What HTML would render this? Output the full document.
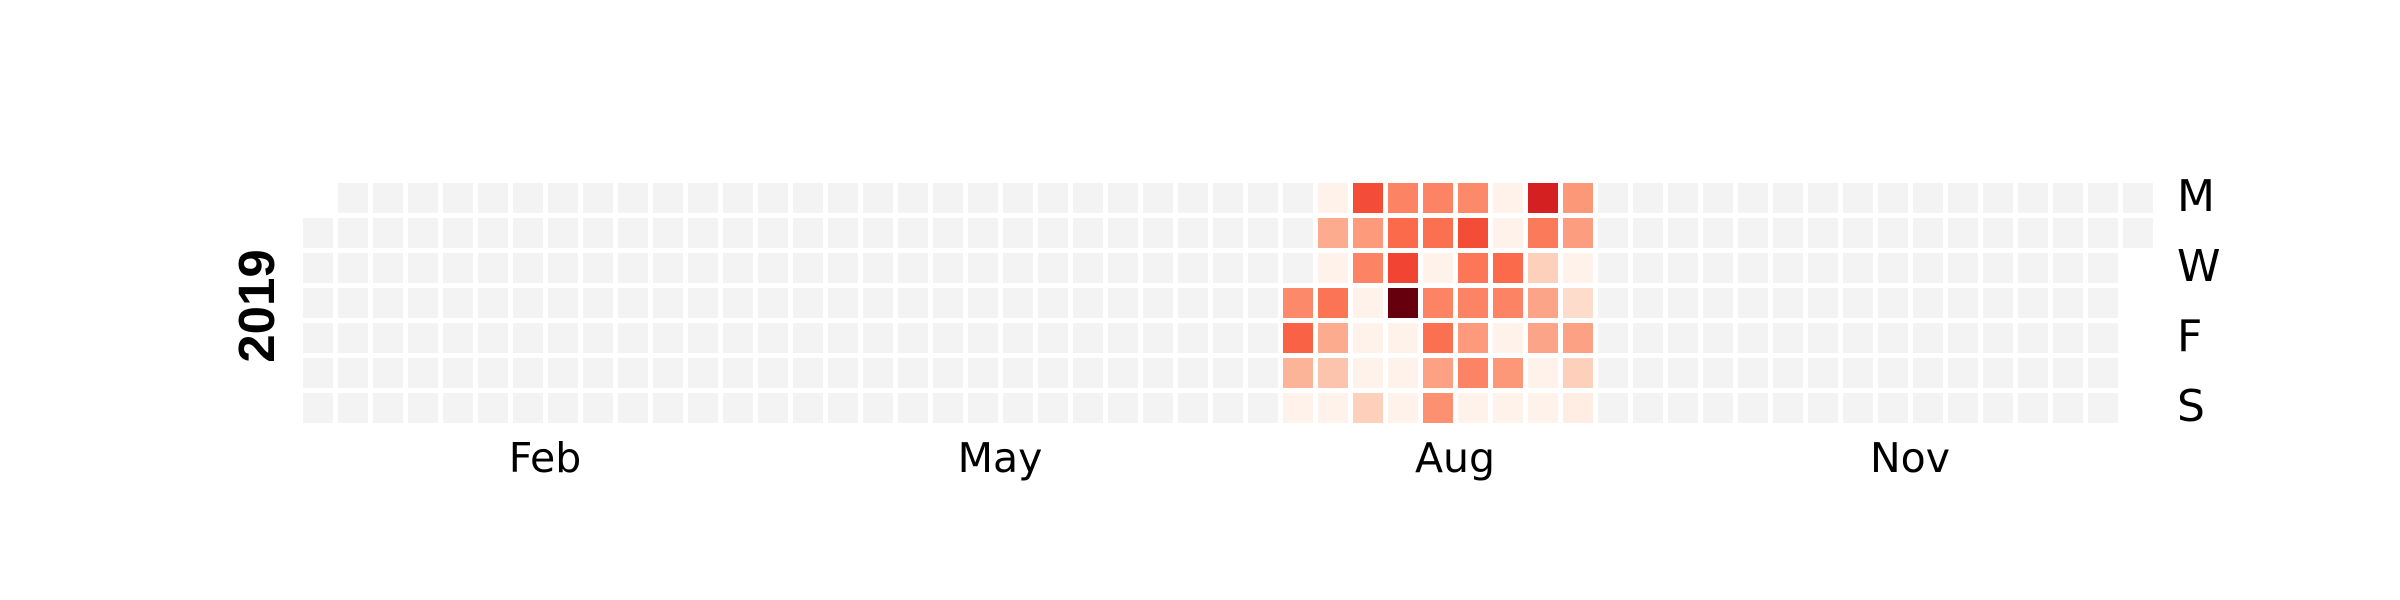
<!DOCTYPE html>
<html><head><meta charset="utf-8">
<style>
html,body{margin:0;padding:0;background:#fff;width:2400px;height:600px;overflow:hidden}
svg text{font-family:"DejaVu Sans","Liberation Sans",sans-serif}
</style></head>
<body>
<svg id="chart" width="2400" height="600" viewBox="0 0 2400 600" xmlns="http://www.w3.org/2000/svg">
<g id="cells"></g>
<text x="0" y="0" transform="translate(274,306) rotate(-90)" text-anchor="middle" font-size="51" font-weight="bold" style="font-family:'Liberation Sans',sans-serif">2019</text>
<g id="daylabels"></g>
<g id="monthlabels"></g>
</svg>
<script>
// data: weeks 28..36 (week index from first Monday column), rows Mon..Sun; null = no data
const dataStartWeek = 28;
const weekValues = [
  [null, null, null, 0.40, 0.52, 0.27, 0.02],
  [0.02, 0.30, 0.02, 0.47, 0.30, 0.22, 0.02],
  [0.58, 0.35, 0.42, 0.02, 0.02, 0.02, 0.18],
  [0.42, 0.50, 0.60, 1.00, 0.02, 0.02, 0.02],
  [0.42, 0.48, 0.02, 0.42, 0.48, 0.33, 0.38],
  [0.40, 0.58, 0.46, 0.42, 0.35, 0.42, 0.02],
  [0.02, 0.02, 0.50, 0.42, 0.02, 0.36, 0.02],
  [0.72, 0.45, 0.18, 0.32, 0.32, 0.02, 0.02],
  [0.36, 0.34, 0.02, 0.14, 0.33, 0.18, 0.05]
];
const dayLabels = ["M", "W", "F", "S"];
const dayLabelRows = [0, 2, 4, 6];
const monthLabels = ["Feb", "May", "Aug", "Nov"];
const monthLabelWeeks = [7, 20, 33, 46];

const X0 = 303, Y0 = 183, PITCH = 35, CELL = 30;
function xOf(w){ return X0 + w * PITCH; }
function yOf(r){ return Y0 + r * PITCH; }
const reds = ["#fff5f0","#fee0d2","#fcbba1","#fc9272","#fb6a4a","#ef3b2c","#cb181d","#a50f15","#67000d"];
function hex(h){return [1,3,5].map(i=>parseInt(h.substr(i,2),16));}
function color(v){
  const t = Math.max(0, Math.min(1, v)) * (reds.length - 1);
  const i = Math.min(Math.floor(t), reds.length - 2), f = t - i;
  const a = hex(reds[i]), b = hex(reds[i+1]);
  return "rgb(" + a.map((c,k)=>Math.round(c + (b[k]-c)*f)).join(",") + ")";
}
const NS = "http://www.w3.org/2000/svg";
const cells = document.getElementById("cells");
for (let d = 0; d < 365; d++) {
  const idx = d + 1;
  const w = Math.floor(idx / 7), r = idx % 7;
  let v = null;
  const wi = w - dataStartWeek;
  if (wi >= 0 && wi < weekValues.length) v = weekValues[wi][r];
  const rect = document.createElementNS(NS, "rect");
  rect.setAttribute("x", xOf(w));
  rect.setAttribute("y", yOf(r));
  rect.setAttribute("width", CELL);
  rect.setAttribute("height", CELL);
  rect.setAttribute("fill", v === null ? "#f3f3f3" : color(v));
  
  
  cells.appendChild(rect);
}
const dl = document.getElementById("daylabels");
dayLabels.forEach((t, i) => {
  const tx = document.createElementNS(NS, "text");
  tx.setAttribute("x", 2177);
  tx.setAttribute("y", yOf(dayLabelRows[i]) + CELL/2 + 13);
  tx.setAttribute("font-size", "44");
  tx.textContent = t;
  
  
  dl.appendChild(tx);
});
const ml = document.getElementById("monthlabels");
monthLabels.forEach((t, i) => {
  const tx = document.createElementNS(NS, "text");
  tx.setAttribute("x", xOf(monthLabelWeeks[i]) - 3);
  tx.setAttribute("y", 472);
  tx.setAttribute("font-size", "41");
  tx.setAttribute("text-anchor", "middle");
  tx.textContent = t;
  
  
  ml.appendChild(tx);
});
</script>
</body></html>
